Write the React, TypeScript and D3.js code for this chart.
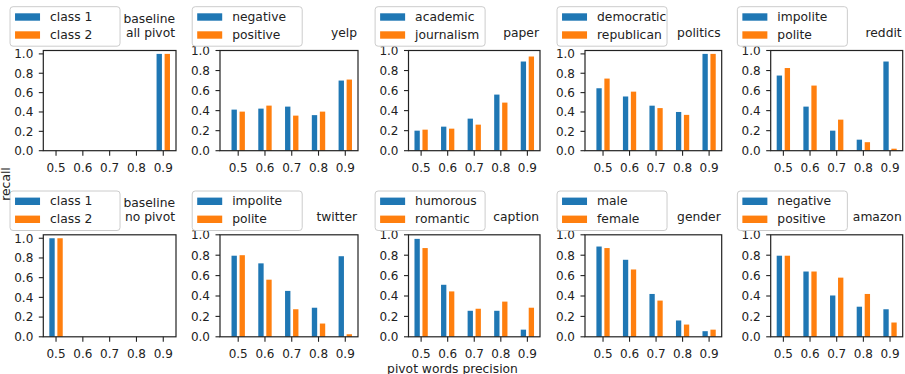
import React from "react";
import * as d3 from "d3";

// pivot-word precision thresholds on the x axis
const precisions = [0.5, 0.6, 0.7, 0.8, 0.9];

// recall per threshold, one pair of arrays per dataset
const allPivotC1 = [0, 0, 0, 0, 1.0];
const allPivotC2 = [0, 0, 0, 0, 1.0];
const yelpNeg = [0.41, 0.42, 0.44, 0.355, 0.7];
const yelpPos = [0.39, 0.45, 0.35, 0.39, 0.71];
const paperAcad = [0.2, 0.24, 0.32, 0.56, 0.89];
const paperJourn = [0.21, 0.22, 0.26, 0.48, 0.94];
const politicsDem = [0.645, 0.56, 0.465, 0.4, 1.0];
const politicsRep = [0.745, 0.61, 0.44, 0.37, 1.0];
const redditImp = [0.75, 0.44, 0.2, 0.11, 0.89];
const redditPol = [0.825, 0.65, 0.31, 0.085, 0.02];
const noPivotC1 = [1.0, 0, 0, 0, 0];
const noPivotC2 = [1.0, 0, 0, 0, 0];
const twitterImp = [0.795, 0.72, 0.45, 0.285, 0.79];
const twitterPol = [0.8, 0.56, 0.27, 0.13, 0.025];
const captionHum = [0.96, 0.51, 0.255, 0.255, 0.07];
const captionRom = [0.87, 0.445, 0.275, 0.345, 0.285];
const genderMale = [0.885, 0.755, 0.42, 0.16, 0.055];
const genderFemale = [0.87, 0.66, 0.355, 0.12, 0.07];
const amazonNeg = [0.795, 0.64, 0.405, 0.295, 0.27];
const amazonPos = [0.795, 0.64, 0.58, 0.42, 0.14];

const titles = [
  "baseline\nall pivot", "yelp", "paper", "politics", "reddit",
  "baseline\nno pivot", "twitter", "caption", "gender", "amazon",
];
const classNames = [
  ["class 1", "class 2"], ["negative", "positive"], ["academic", "journalism"],
  ["democratic", "republican"], ["impolite", "polite"],
  ["class 1", "class 2"], ["impolite", "polite"], ["humorous", "romantic"],
  ["male", "female"], ["negative", "positive"],
];
const seriesA = [allPivotC1, yelpNeg, paperAcad, politicsDem, redditImp,
  noPivotC1, twitterImp, captionHum, genderMale, amazonNeg];
const seriesB = [allPivotC2, yelpPos, paperJourn, politicsRep, redditPol,
  noPivotC2, twitterPol, captionRom, genderFemale, amazonPos];

const BLUE = "#1f77b4";
const ORANGE = "#ff7f0e";
const INK = "#222";
const FONT = "DejaVu Sans, sans-serif";

// grid geometry
const colLeft = [43.3, 220, 408.5, 585, 770.7];
const colRight = [176, 358, 540, 721.7, 902.7];
const colXMin = [0.4525, 0.432, 0.4525, 0.432, 0.4525];
const rowTop = [50.5, 234.8];
const rowBottom = [150.7, 336.8];

function Panel({ idx }) {
  const col = idx % 5;
  const row = Math.floor(idx / 5);
  const left = colLeft[col], right = colRight[col];
  const top = rowTop[row], bottom = rowBottom[row];
  const a = seriesA[idx], b = seriesB[idx];

  const x = d3.scaleLinear().domain([colXMin[col], 0.9475]).range([left, right]);
  const ymax = Math.max(...a, ...b) >= 1 ? 1.035 : 1;
  const y = d3.scaleLinear().domain([0, ymax]).range([bottom, top]);
  const fmt = d3.format(".1f");
  const yTicks = d3.range(0, 1.001, 0.2);

  const legLeft = x(0.5) - 46;
  const legTop = top - 43.8;
  const lines = titles[idx].split("\n");

  return (
    <g>
      {/* bars */}
      {precisions.map((p, i) => (
        <g key={i}>
          <rect x={x(p - 0.025)} width={x(p - 0.005) - x(p - 0.025)}
            y={y(a[i])} height={y(0) - y(a[i])} fill={BLUE} />
          <rect x={x(p + 0.005)} width={x(p + 0.025) - x(p + 0.005)}
            y={y(b[i])} height={y(0) - y(b[i])} fill={ORANGE} />
        </g>
      ))}
      {/* frame */}
      <rect x={left} y={top} width={right - left} height={bottom - top}
        fill="none" stroke={INK} strokeWidth={1.2} />
      {/* y axis */}
      {yTicks.map((t, i) => (
        <g key={i}>
          <line x1={left - 4.5} x2={left} y1={y(t)} y2={y(t)} stroke={INK} strokeWidth={1.1} />
          <text x={left - 10} y={y(t)} dy="0.36em" textAnchor="end"
            fontSize={12} fill={INK} fontFamily={FONT}>{fmt(t)}</text>
        </g>
      ))}
      {/* x axis */}
      {precisions.map((p, i) => (
        <g key={i}>
          <line x1={x(p)} x2={x(p)} y1={bottom} y2={bottom + 5} stroke={INK} strokeWidth={1.1} />
          <text x={x(p)} y={bottom + 21.5} textAnchor="middle"
            fontSize={12} fill={INK} fontFamily={FONT}>{fmt(p)}</text>
        </g>
      ))}
      {/* title, right aligned */}
      {lines.map((s, i) => (
        <text key={i} x={right - 1} y={top - 13.5 - (lines.length - 1 - i) * 14}
          textAnchor="end" fontSize={12.3} fill={INK} fontFamily={FONT}>{s}</text>
      ))}
      {/* legend */}
      <rect x={legLeft} y={legTop} width={110} height={39.5} rx={3}
        fill="#fff" fillOpacity={0.8} stroke="#ccc" strokeWidth={1} />
      {[BLUE, ORANGE].map((c, i) => (
        <g key={i}>
          <rect x={legLeft + 5} y={legTop + 6.6 + i * 18} width={25} height={7.4} fill={c} />
          <text x={legLeft + 40} y={legTop + 14.3 + i * 18} fontSize={12.3}
            fill={INK} fontFamily={FONT}>{classNames[idx][i]}</text>
        </g>
      ))}
    </g>
  );
}

export default function App() {
  return (
    <svg width={905} height={374} style={{ position: "absolute", left: 0, top: 0, background: "#fff" }}>
      <rect width={905} height={374} fill="#fff" />
      {titles.map((_, i) => <Panel key={i} idx={i} />)}
      <text transform="translate(10,184) rotate(-90)" textAnchor="middle"
        fontSize={12.3} fill={INK} fontFamily={FONT}>recall</text>
      <text x={452.5} y={372.5} textAnchor="middle"
        fontSize={12.3} fill={INK} fontFamily={FONT}>pivot words precision</text>
    </svg>
  );
}
